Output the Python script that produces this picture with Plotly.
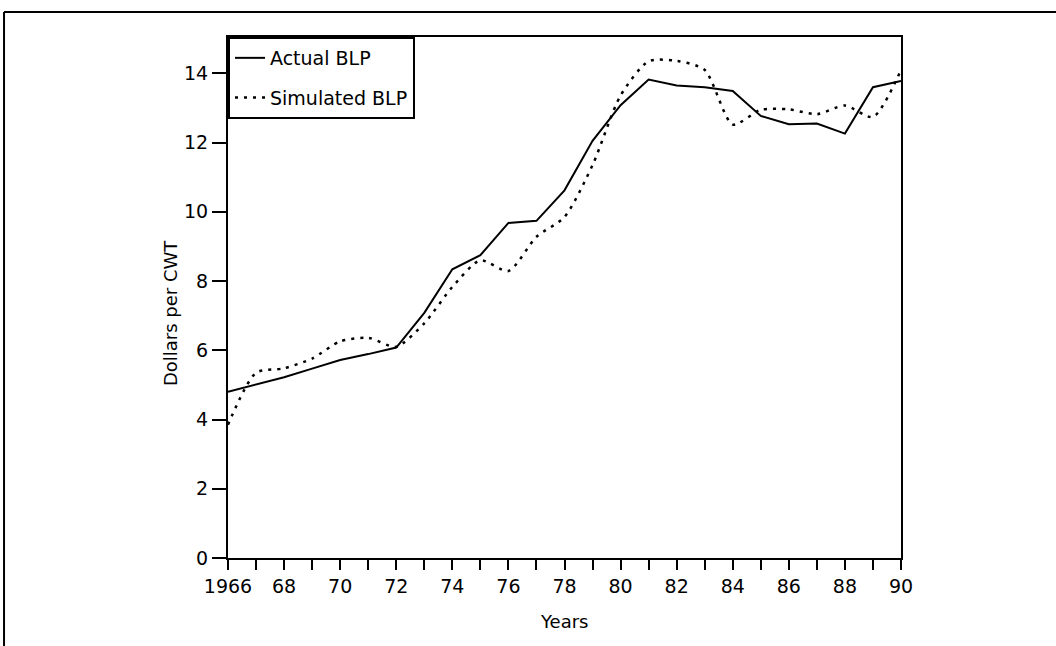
import plotly.graph_objects as go

years = list(range(1966, 1991))
actual_blp = [4.80, 5.00, 5.22, 5.47, 5.72, 5.89, 6.08, 7.08, 8.34, 8.75, 9.68, 9.74, 10.62,
              12.05, 13.08, 13.82, 13.65, 13.60, 13.49, 12.77, 12.53, 12.55, 12.26, 13.60, 13.78]
simulated_blp = [3.85, 5.35, 5.48, 5.76, 6.26, 6.36, 6.10, 6.78, 7.83, 8.60, 8.29, 9.28, 9.85,
                 11.35, 13.36, 14.35, 14.36, 14.10, 12.52, 12.95, 12.96, 12.82, 13.07, 12.74, 14.10]
x_tick_vals = years
x_tick_text = ["1966" if y == 1966 else (str(y)[2:] if y % 2 == 0 else "") for y in years]
y_tick_vals = [0, 2, 4, 6, 8, 10, 12, 14]

FONT = "DejaVu Sans"

fig = go.Figure()
fig.add_trace(go.Scatter(
    x=years, y=actual_blp, mode="lines", name="Actual BLP",
    line=dict(color="black", width=2), legendgroup="a",
))
fig.add_trace(go.Scatter(
    x=years, y=simulated_blp, mode="lines", name="Simulated BLP",
    line=dict(color="black", width=2.5, dash="3px,6px", shape="spline", smoothing=0.7),
    legendgroup="b",
))

fig.update_layout(
    width=1056, height=646,
    margin=dict(l=228, r=155, t=37, b=88),
    paper_bgcolor="white", plot_bgcolor="white",
    font=dict(family=FONT, size=18, color="black"),
    showlegend=True,
    legend=dict(
        x=0, y=1, xanchor="left", yanchor="top",
        bordercolor="black", borderwidth=2, bgcolor="white",
        font=dict(family=FONT, size=19, color="black"),
        tracegroupgap=12, traceorder="grouped",
        itemwidth=30,
    ),
    xaxis=dict(
        range=[1966, 1990], showgrid=False, zeroline=False,
        showline=True, linecolor="black", linewidth=2, mirror=True,
        ticks="outside", ticklen=10, tickwidth=2, tickcolor="black",
        tickvals=x_tick_vals, ticktext=x_tick_text,
        tickfont=dict(family=FONT, size=19, color="black"),
    ),
    yaxis=dict(
        range=[0, 15.05], showgrid=False, zeroline=False,
        showline=True, linecolor="black", linewidth=2, mirror=True,
        ticks="outside", ticklen=14, tickwidth=2, tickcolor="black",
        tickvals=y_tick_vals,
        tickfont=dict(family=FONT, size=19, color="black"),
    ),
    annotations=[
        dict(text="Years", xref="paper", yref="paper", x=0.5007, y=-0.1228,
             xanchor="center", yanchor="middle", showarrow=False,
             font=dict(family=FONT, size=18, color="black")),
        dict(text="Dollars per CWT", xref="paper", yref="paper", x=-0.0862, y=0.470,
             xanchor="center", yanchor="middle", showarrow=False, textangle=-90,
             font=dict(family=FONT, size=18, color="black")),
    ],
    shapes=[
        dict(type="line", xref="paper", yref="paper", x0=-0.3328, x1=-0.3328, y0=1.048, y1=-0.17,
             line=dict(color="black", width=2)),
        dict(type="line", xref="paper", yref="paper", x0=-0.3328, x1=1.24, y0=1.048, y1=1.048,
             line=dict(color="black", width=2)),
    ],
)

fig.write_html("out.html", config={"displayModeBar": False},
               post_script="document.body.style.margin='0px';")
